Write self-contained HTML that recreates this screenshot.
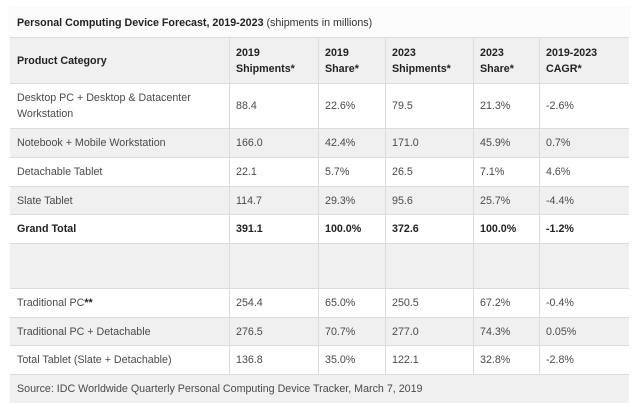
<!DOCTYPE html>
<html><head><meta charset="utf-8">
<style>
html,body{margin:0;padding:0;background:#fff;width:640px;height:406px;overflow:hidden;}
body{font-family:"Liberation Sans",Arial,sans-serif;font-size:10.7px;color:#4a4a4a;position:relative;}
.row{position:absolute;left:10px;width:619px;border-top:1px solid #dcdcdc;box-sizing:border-box;}
.g{background:#f0f0f0;}
.w{background:#fff;}
.c{position:absolute;top:0;bottom:0;display:flex;align-items:center;padding-left:7px;box-sizing:border-box;line-height:16px;}
.b{font-weight:bold;color:#222;}
.v{position:absolute;width:1px;background:#dcdcdc;top:37px;height:337px;}
</style></head><body>
<div class="row" style="top:8px;height:29px;background:#fcfcfc;border-top:none;box-shadow:0 0 2px rgba(0,0,0,0.06);">
 <div class="c" style="left:0;width:619px;color:#333;"><span><b style="color:#222">Personal Computing Device Forecast, 2019-2023</b> (shipments in millions)</span></div>
</div>
<div class="row g" style="top:37px;height:46px;">
 <div class="c b" style="left:0;width:219px;">Product Category</div>
 <div class="c b" style="left:219px;width:89px;">2019<br>Shipments*</div>
 <div class="c b" style="left:308px;width:67px;">2019<br>Share*</div>
 <div class="c b" style="left:375px;width:88px;">2023<br>Shipments*</div>
 <div class="c b" style="left:463px;width:66px;">2023<br>Share*</div>
 <div class="c b" style="left:529px;width:90px;">2019-2023<br>CAGR*</div>
</div>
<div class="row w" style="top:83px;height:45px;">
 <div class="c" style="left:0;width:219px;">Desktop PC + Desktop &amp; Datacenter<br>Workstation</div>
 <div class="c" style="left:219px;width:89px;">88.4</div>
 <div class="c" style="left:308px;width:67px;">22.6%</div>
 <div class="c" style="left:375px;width:88px;">79.5</div>
 <div class="c" style="left:463px;width:66px;">21.3%</div>
 <div class="c" style="left:529px;width:90px;">-2.6%</div>
</div>
<div class="row g" style="top:128px;height:29px;">
 <div class="c" style="left:0;width:219px;">Notebook + Mobile Workstation</div>
 <div class="c" style="left:219px;width:89px;">166.0</div>
 <div class="c" style="left:308px;width:67px;">42.4%</div>
 <div class="c" style="left:375px;width:88px;">171.0</div>
 <div class="c" style="left:463px;width:66px;">45.9%</div>
 <div class="c" style="left:529px;width:90px;">0.7%</div>
</div>
<div class="row w" style="top:157px;height:29px;">
 <div class="c" style="left:0;width:219px;">Detachable Tablet</div>
 <div class="c" style="left:219px;width:89px;">22.1</div>
 <div class="c" style="left:308px;width:67px;">5.7%</div>
 <div class="c" style="left:375px;width:88px;">26.5</div>
 <div class="c" style="left:463px;width:66px;">7.1%</div>
 <div class="c" style="left:529px;width:90px;">4.6%</div>
</div>
<div class="row g" style="top:186px;height:28px;">
 <div class="c" style="left:0;width:219px;">Slate Tablet</div>
 <div class="c" style="left:219px;width:89px;">114.7</div>
 <div class="c" style="left:308px;width:67px;">29.3%</div>
 <div class="c" style="left:375px;width:88px;">95.6</div>
 <div class="c" style="left:463px;width:66px;">25.7%</div>
 <div class="c" style="left:529px;width:90px;">-4.4%</div>
</div>
<div class="row w" style="top:214px;height:29px;">
 <div class="c b" style="left:0;width:219px;">Grand Total</div>
 <div class="c b" style="left:219px;width:89px;">391.1</div>
 <div class="c b" style="left:308px;width:67px;">100.0%</div>
 <div class="c b" style="left:375px;width:88px;">372.6</div>
 <div class="c b" style="left:463px;width:66px;">100.0%</div>
 <div class="c b" style="left:529px;width:90px;">-1.2%</div>
</div>
<div class="row g" style="top:243px;height:45px;"></div>
<div class="row w" style="top:288px;height:29px;">
 <div class="c" style="left:0;width:219px;">Traditional PC<b style="color:#222">**</b></div>
 <div class="c" style="left:219px;width:89px;">254.4</div>
 <div class="c" style="left:308px;width:67px;">65.0%</div>
 <div class="c" style="left:375px;width:88px;">250.5</div>
 <div class="c" style="left:463px;width:66px;">67.2%</div>
 <div class="c" style="left:529px;width:90px;">-0.4%</div>
</div>
<div class="row g" style="top:317px;height:28px;">
 <div class="c" style="left:0;width:219px;">Traditional PC + Detachable</div>
 <div class="c" style="left:219px;width:89px;">276.5</div>
 <div class="c" style="left:308px;width:67px;">70.7%</div>
 <div class="c" style="left:375px;width:88px;">277.0</div>
 <div class="c" style="left:463px;width:66px;">74.3%</div>
 <div class="c" style="left:529px;width:90px;">0.05%</div>
</div>
<div class="row w" style="top:345px;height:29px;">
 <div class="c" style="left:0;width:219px;">Total Tablet (Slate + Detachable)</div>
 <div class="c" style="left:219px;width:89px;">136.8</div>
 <div class="c" style="left:308px;width:67px;">35.0%</div>
 <div class="c" style="left:375px;width:88px;">122.1</div>
 <div class="c" style="left:463px;width:66px;">32.8%</div>
 <div class="c" style="left:529px;width:90px;">-2.8%</div>
</div>
<div class="row g" style="top:374px;height:29px;">
 <div class="c" style="left:0;width:619px;">Source: IDC Worldwide Quarterly Personal Computing Device Tracker, March 7, 2019</div>
</div>
<div class="v" style="left:229px;"></div>
<div class="v" style="left:318px;"></div>
<div class="v" style="left:385px;"></div>
<div class="v" style="left:473px;"></div>
<div class="v" style="left:539px;"></div>
</body></html>
